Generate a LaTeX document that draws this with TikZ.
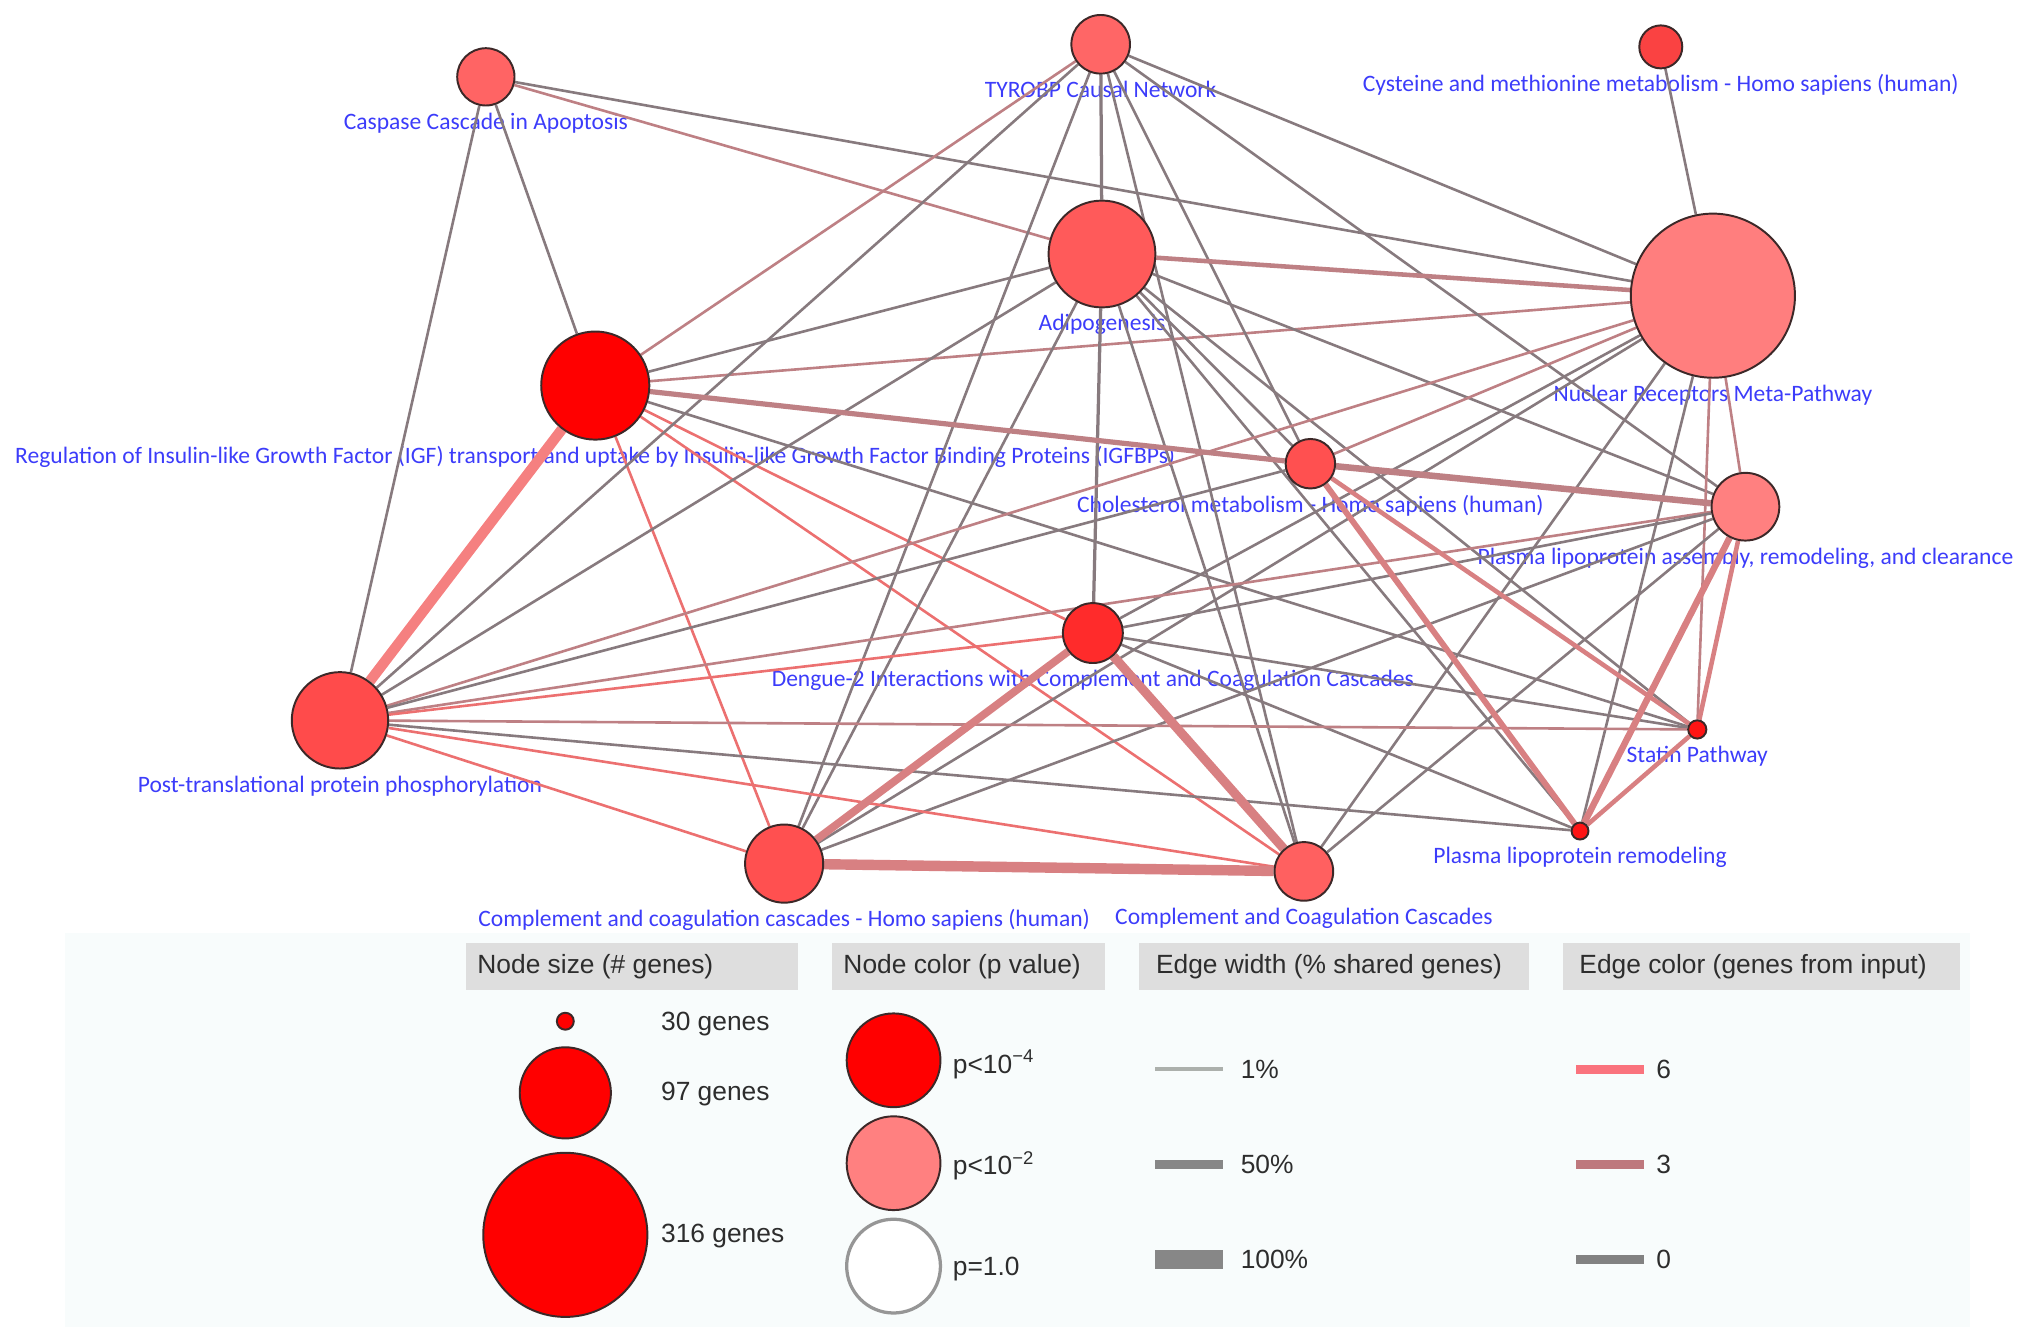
\documentclass[tikz,border=0pt]{standalone}
\usepackage{fontspec}
\setmainfont{Liberation Sans}
\newfontfamily\pathfont{Carlito}
\usetikzlibrary{positioning}

\newlength{\dpx}
\setlength{\dpx}{0.13026mm}

\definecolor{labblue}{RGB}{60,60,250}
\definecolor{rimdark}{RGB}{60,40,40}
\definecolor{edgegray}{RGB}{135,122,126}
\definecolor{edgerose}{RGB}{190,128,132}
\definecolor{edgered}{RGB}{236,112,112}
\definecolor{edgepink}{RGB}{216,128,130}
\definecolor{edgelight}{RGB}{245,128,128}
\definecolor{legbg}{RGB}{248,252,252}
\definecolor{headgray}{RGB}{222,222,222}
\definecolor{legtext}{RGB}{45,45,45}

\pgfdeclarelayer{labels}
\pgfdeclarelayer{edges}
\pgfsetlayers{labels,edges,main}

\begin{document}
\begin{tikzpicture}[x=\dpx, y=-\dpx,
    pnode/.style={circle, draw=rimdark, line width=1.5*\dpx, inner sep=0pt, minimum size=#1*\dpx},
    plab/.style={font=\pathfont\fontsize{6.7pt}{8pt}\selectfont, text=labblue, inner sep=0pt, text height=4.8pt, text depth=1.4pt},
    eg/.style={draw=edgegray, line width=2*\dpx},
    er/.style={draw=edgerose, line width=2*\dpx},
    ed/.style={draw=edgered, line width=2*\dpx},
    ep/.style={draw=edgepink},
    wd/.style={line width=#1*\dpx},
    head/.style={fill=headgray, minimum height=36*\dpx, inner sep=0pt, anchor=west},
    ltxt/.style={font=\fontsize{7.5pt}{9pt}\selectfont, text=legtext, inner sep=0pt, anchor=west},
  ]
  \useasboundingbox (0,0) rectangle (1560,1026.4);

  % Pathway nodes
  \node[pnode=44, fill={rgb,255:red,255;green,100;blue,100}] (ca) at (373,59) {};
  \node[pnode=45, fill={rgb,255:red,255;green,102;blue,102}] (ty) at (845,34) {};
  \node[pnode=33, fill={rgb,255:red,250;green,66;blue,66}] (cy) at (1275,36) {};
  \node[pnode=82, fill={rgb,255:red,255;green,90;blue,90}] (ad) at (846,195) {};
  \node[pnode=126, fill={rgb,255:red,255;green,126;blue,126}] (nr) at (1315,227) {};
  \node[pnode=83, fill=red] (ig) at (457,296) {};
  \node[pnode=38, fill={rgb,255:red,255;green,80;blue,80}] (ch) at (1006,356) {};
  \node[pnode=52, fill={rgb,255:red,255;green,128;blue,128}] (pa) at (1340,389) {};
  \node[pnode=46, fill={rgb,255:red,255;green,43;blue,43}] (de) at (839,486) {};
  \node[pnode=74, fill={rgb,255:red,255;green,75;blue,75}] (pt) at (261,553) {};
  \node[pnode=14, fill={rgb,255:red,255;green,20;blue,20}] (st) at (1303,560) {};
  \node[pnode=13, fill={rgb,255:red,255;green,20;blue,20}] (pr) at (1213,638) {};
  \node[pnode=60, fill={rgb,255:red,255;green,80;blue,80}] (cc) at (602,663) {};
  \node[pnode=45, fill={rgb,255:red,255;green,96;blue,96}] (ck) at (1001,669) {};

  % Labels
  \begin{pgfonlayer}{labels}
    \fill[legbg] (50,716) rectangle (1512,1019);
    \node[plab, below=0.5mm of ca] (caL) {Caspase Cascade in Apoptosis};
    \node[plab, below=0.5mm of ty] (tyL) {TYROBP Causal Network};
    \node[plab, below=0.5mm of cy] (cyL) {Cysteine and methionine metabolism - Homo sapiens (human)};
    \node[plab, below=0.5mm of ad] (adL) {Adipogenesis};
    \node[plab, below=0.5mm of nr] (nrL) {Nuclear Receptors Meta-Pathway};
    \node[plab, below=0.5mm of ig] (igL) {Regulation of Insulin-like Growth Factor (IGF) transport and uptake by Insulin-like Growth Factor Binding Proteins (IGFBPs)};
    \node[plab, below=0.5mm of ch] (chL) {Cholesterol metabolism - Homo sapiens (human)};
    \node[plab, below=0.5mm of pa] (paL) {Plasma lipoprotein assembly, remodeling, and clearance};
    \node[plab, below=0.5mm of de] (deL) {Dengue-2 Interactions with Complement and Coagulation Cascades};
    \node[plab, below=0.5mm of pt] (ptL) {Post-translational protein phosphorylation};
    \node[plab, below=0.5mm of st] (stL) {Statin Pathway};
    \node[plab, below=0.5mm of pr] (prL) {Plasma lipoprotein remodeling};
    \node[plab, below=0.5mm of cc] (ccL) {Complement and coagulation cascades - Homo sapiens (human)};
    \node[plab, below=0.5mm of ck] (ckL) {Complement and Coagulation Cascades};
  \end{pgfonlayer}

  % Edges
  \begin{pgfonlayer}{edges}
    \draw[eg] (ca) -- (ig);
    \draw[eg] (ca) -- (pt);
    \draw[eg] (ca) -- (nr);
    \draw[er] (ca) -- (ad);
    \draw[er] (ig) -- (ty);
    \draw[eg] (ig) -- (ad);
    \draw[er] (ig) -- (nr);
    \draw[eg] (ig) -- (st);
    \draw[ed] (ig) -- (de);
    \draw[ed] (ig) -- (ck);
    \draw[ed] (ig) -- (cc);
    \draw[eg] (ty) -- (pt);
    \draw[eg] (ty) -- (cc);
    \draw[eg, wd=2.5] (ty) -- (ad);
    \draw[eg] (ty) -- (ck);
    \draw[eg] (ty) -- (ch);
    \draw[eg] (ty) -- (pa);
    \draw[eg] (ty) -- (nr);
    \draw[eg] (ad) -- (pt);
    \draw[eg] (ad) -- (cc);
    \draw[eg, wd=2.5] (ad) -- (de);
    \draw[eg] (ad) -- (ck);
    \draw[eg] (ad) -- (pa);
    \draw[eg] (ad) -- (st);
    \draw[eg] (ad) -- (pr);
    \draw[eg] (ad) -- (ch);
    \draw[er] (nr) -- (pt);
    \draw[er] (nr) -- (ch);
    \draw[eg] (nr) -- (de);
    \draw[eg] (nr) -- (cc);
    \draw[eg] (nr) -- (ck);
    \draw[eg] (nr) -- (pr);
    \draw[er] (nr) -- (st);
    \draw[er] (nr) -- (pa);
    \draw[eg] (nr) -- (cy);
    \draw[eg] (ch) -- (pt);
    \draw[eg] (pa) -- (ck);
    \draw[er] (pa) -- (pt);
    \draw[eg] (pa) -- (de);
    \draw[eg] (pa) -- (cc);
    \draw[eg] (de) -- (st);
    \draw[eg] (de) -- (pr);
    \draw[ed] (de) -- (pt);
    \draw[er] (pt) -- (st);
    \draw[eg] (pt) -- (pr);
    \draw[ed] (pt) -- (ck);
    \draw[ed] (pt) -- (cc);
    % heavier shared-gene links
    \draw[er, wd=3.5] (ad) -- (nr);
    \draw[er, wd=4] (ig) -- (ch);
    \draw[er, wd=5] (ch) -- (pa);
    \draw[ep, wd=3.5] (ch) -- (st);
    \draw[ep, wd=4.5] (ch) -- (pr);
    \draw[ep, wd=5] (pr) -- (pa);
    \draw[ep, wd=3.5] (st) -- (pa);
    \draw[ep, wd=3.5] (pr) -- (st);
    \draw[ep, wd=6] (de) -- (cc);
    \draw[ep, wd=7] (de) -- (ck);
    \draw[ep, wd=8] (cc) -- (ck);
    \draw[draw=edgelight, wd=8] (ig) -- (pt);
  \end{pgfonlayer}

  % Legend headers
  \node[head, minimum width=255*\dpx] (hsize) at (357,742) {};
  \node[head, minimum width=210*\dpx] (hcolor) at (638,742) {};
  \node[head, minimum width=299*\dpx] (hwidth) at (874,742) {};
  \node[head, minimum width=305*\dpx] (hedge) at (1199,742) {};
  \node[ltxt] (hsizeT) at (366,742) {Node size (\# genes)};
  \node[ltxt] (hcolorT) at (647,742) {Node color (p value)};
  \node[ltxt] (hwidthT) at (887,742) {Edge width (\% shared genes)};
  \node[ltxt] (hedgeT) at (1212,742) {Edge color (genes from input)};

  % Node size
  \node[pnode=13, fill=red] (g30) at (434,784) {};
  \node[pnode=70, fill=red] (g97) at (434,839) {};
  \node[pnode=126, fill=red] (g316) at (434,948) {};
  \node[ltxt] (g30T) at (507,786) {30 genes};
  \node[ltxt] (g97T) at (507,840) {97 genes};
  \node[ltxt] (g316T) at (507,949) {316 genes};

  % Node color
  \node[pnode=72, fill=red] (p4) at (686,814) {};
  \node[pnode=72, fill={rgb,255:red,255;green,128;blue,128}] (p2) at (686,893) {};
  \node[pnode=72, fill=white, draw={rgb,255:red,150;green,150;blue,150}, wd=2.5] (p0) at (686,972) {};
  \node[ltxt] (p4T) at (731,817) {p<10\textsuperscript{−4}};
  \node[ltxt] (p2T) at (731,895) {p<10\textsuperscript{−2}};
  \node[ltxt] (p0T) at (731,974) {p=1.0};

  % Edge width
  \draw[draw={rgb,255:red,172;green,176;blue,172}, wd=3] (887,821) -- (939,821);
  \draw[draw={rgb,255:red,135;green,135;blue,135}, wd=7] (887,894) -- (939,894);
  \draw[draw={rgb,255:red,135;green,135;blue,135}, wd=15] (887,967) -- (939,967);
  \node[ltxt] (w1T) at (952,821) {1\%};
  \node[ltxt] (w50T) at (952,894) {50\%};
  \node[ltxt] (w100T) at (952,967) {100\%};

  % Edge color
  \draw[draw={rgb,255:red,250;green,115;blue,125}, wd=6.5] (1210,821) -- (1262,821);
  \draw[draw={rgb,255:red,190;green,120;blue,125}, wd=6.5] (1210,894) -- (1262,894);
  \draw[draw={rgb,255:red,130;green,130;blue,130}, wd=6.5] (1210,967) -- (1262,967);
  \node[ltxt] (c6T) at (1271,821) {6};
  \node[ltxt] (c3T) at (1271,894) {3};
  \node[ltxt] (c0T) at (1271,967) {0};
\end{tikzpicture}
\end{document}
